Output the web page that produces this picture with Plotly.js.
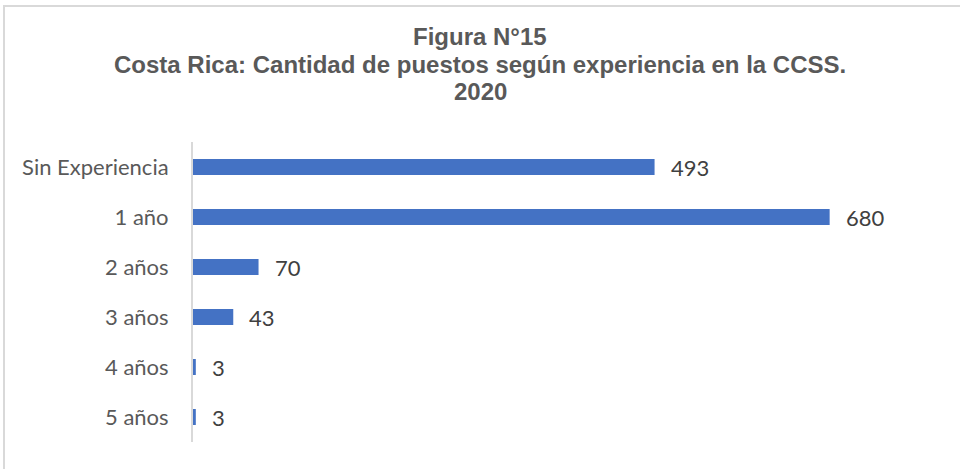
<!DOCTYPE html>
<html>
<head>
<meta charset="utf-8">
<script src="https://cdn.plot.ly/plotly-3.0.1.min.js"></script>
<style>
  html, body { margin: 0; padding: 0; background: #fff; }
  #wrap { position: relative; width: 960px; height: 469px; overflow: hidden; }
  #chart { position: absolute; left: 0; top: 0; width: 960px; height: 469px; }
  #frame { position: absolute; left: 3px; top: 5px; width: 1000px; height: 500px;
           border-left: 2px solid #d9d9d9; border-top: 2px solid #d9d9d9; pointer-events: none; }
</style>
</head>
<body>
<div id="wrap">
  <div id="chart"></div>
  <div id="frame"></div>
</div>
<script>
const categories = ["Sin Experiencia", "1 año", "2 años", "3 años", "4 años", "5 años"];
const values = [493, 680, 70, 43, 3, 3];
const titleLines = ["Figura N°15", "Costa Rica: Cantidad de puestos según experiencia en la CCSS.", "2020"];

const labelFont = "Lato, 'Open Sans', sans-serif";
const titleFont = "'Liberation Sans', Arial, sans-serif";

const W = 960, H = 469, L = 193, R = 18, T = 142, B = 27;
const plotW = W - L - R, plotH = H - T - B;

const trace = {
  type: "bar",
  orientation: "h",
  x: values,
  y: categories,
  marker: { color: "#4472c4" },
  hoverinfo: "x+y"
};

const annotations = categories.map((c, i) => ({
  x: values[i], y: c, xref: "x", yref: "y",
  text: String(values[i]), showarrow: false,
  xanchor: "left", xshift: 14,
  font: { family: labelFont, size: 22, color: "#404040" }
}));

const titleCenters = [37, 64.5, 92];
titleLines.forEach((t, i) => {
  annotations.push({
    xref: "paper", yref: "paper",
    x: (480 - L) / plotW, y: (H - B - titleCenters[i]) / plotH,
    xanchor: "center", yanchor: "middle",
    text: "<b>" + t + "</b>", showarrow: false,
    font: { family: titleFont, size: 24, color: "#595959" }
  });
});

const layout = {
  width: W, height: H,
  margin: { l: L, r: R, t: T, b: B },
  paper_bgcolor: "#ffffff",
  plot_bgcolor: "#ffffff",
  showlegend: false,
  bargap: 0.68,
  xaxis: {
    range: [0, 800],
    visible: false,
    showgrid: false, zeroline: false
  },
  yaxis: {
    type: "category",
    autorange: "reversed",
    showline: true, linecolor: "#d9d9d9", linewidth: 2,
    ticks: "", showgrid: false, zeroline: false,
    ticklabelstandoff: 18,
    tickfont: { family: labelFont, size: 22, color: "#595959" }
  },
  annotations: annotations
};

Plotly.newPlot("chart", [trace], layout, { displayModeBar: false, staticPlot: true });
</script>
</body>
</html>
